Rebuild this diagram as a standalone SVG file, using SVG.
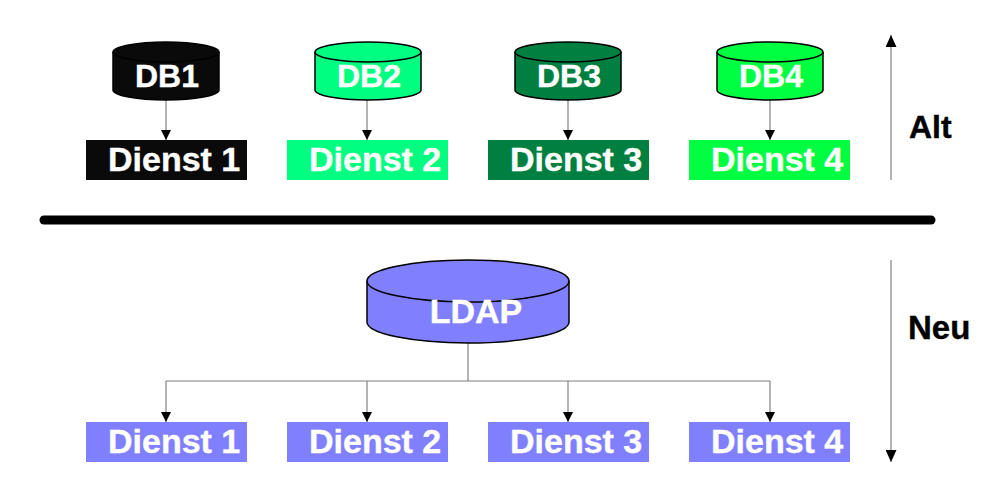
<svg xmlns="http://www.w3.org/2000/svg" width="1000" height="487" viewBox="0 0 1000 487">
<defs>
<style>
.lbl{font-family:"Liberation Sans",Arial,sans-serif;font-weight:bold;fill:#fff;stroke:#fff;stroke-width:0.4}
.side{font-family:"Liberation Sans",Arial,sans-serif;font-weight:bold;fill:#000;stroke:#000;stroke-width:0.4}
.cyl{stroke:#000;stroke-width:1.5}
.con{stroke:#808080;stroke-width:1.2;fill:none}
.ax{stroke:#808080;stroke-width:1.2;fill:none}
</style>
<marker id="ah" viewBox="0 0 10 10" refX="10" refY="5" markerWidth="10" markerHeight="10" markerUnits="userSpaceOnUse" orient="auto"><path d="M0,0 L10,5 L0,10 Z" fill="#000"/></marker>
<marker id="axh" viewBox="0 0 12 11" refX="12" refY="5.5" markerWidth="12" markerHeight="11" markerUnits="userSpaceOnUse" orient="auto"><path d="M0,0 L12,5.5 L0,11 Z" fill="#000"/></marker>
</defs>
<rect width="1000" height="487" fill="#fff"/>

<g id="connectors">
<line class="con" x1="166" y1="100" x2="166" y2="140" marker-end="url(#ah)"/>
<line class="con" x1="367" y1="100" x2="367" y2="140" marker-end="url(#ah)"/>
<line class="con" x1="568" y1="100" x2="568" y2="140" marker-end="url(#ah)"/>
<line class="con" x1="770" y1="100" x2="770" y2="140" marker-end="url(#ah)"/>
<line class="con" x1="468" y1="343" x2="468" y2="381"/>
<line class="con" x1="166" y1="381" x2="770" y2="381"/>
<line class="con" x1="166" y1="381" x2="166" y2="422" marker-end="url(#ah)"/>
<line class="con" x1="367" y1="381" x2="367" y2="422" marker-end="url(#ah)"/>
<line class="con" x1="568" y1="381" x2="568" y2="422" marker-end="url(#ah)"/>
<line class="con" x1="770" y1="381" x2="770" y2="422" marker-end="url(#ah)"/>
</g>

<g id="axes">
<line class="ax" x1="891" y1="180" x2="891" y2="35" marker-end="url(#axh)"/>
<line class="ax" x1="891" y1="260" x2="891" y2="462" marker-end="url(#axh)"/>
<line x1="44" y1="220" x2="931" y2="220" stroke="#000" stroke-width="9" stroke-linecap="round"/>
<text class="side" x="909" y="138" font-size="32">Alt</text>
<text class="side" x="908" y="339" font-size="33">Neu</text>
</g>

<g id="db1">
<path class="cyl" fill="#0a0a0a" d="M113,52 L113,90 A53,10 0 0 0 219,90 L219,52"/>
<ellipse class="cyl" fill="#0a0a0a" cx="166" cy="52" rx="53" ry="10"/>
<text class="lbl" x="167" y="87" font-size="32" text-anchor="middle">DB1</text>
</g>
<g id="db2">
<path class="cyl" fill="#00ff80" d="M315,52 L315,90 A53,10 0 0 0 421,90 L421,52"/>
<ellipse class="cyl" fill="#00ff80" cx="368" cy="52" rx="53" ry="10"/>
<text class="lbl" x="369" y="87" font-size="32" text-anchor="middle">DB2</text>
</g>
<g id="db3">
<path class="cyl" fill="#008040" d="M515,52 L515,90 A53,10 0 0 0 621,90 L621,52"/>
<ellipse class="cyl" fill="#008040" cx="568" cy="52" rx="53" ry="10"/>
<text class="lbl" x="569" y="87" font-size="32" text-anchor="middle">DB3</text>
</g>
<g id="db4">
<path class="cyl" fill="#00ff40" d="M717,52 L717,90 A53,10 0 0 0 823,90 L823,52"/>
<ellipse class="cyl" fill="#00ff40" cx="770" cy="52" rx="53" ry="10"/>
<text class="lbl" x="771" y="87" font-size="32" text-anchor="middle">DB4</text>
</g>

<g id="dienst1-alt">
<rect x="86" y="140" width="161" height="40" fill="#0a0a0a"/>
<text class="lbl" x="108" y="171" font-size="34">Dienst 1</text>
</g>
<g id="dienst2-alt">
<rect x="287" y="140" width="161" height="40" fill="#00ff80"/>
<text class="lbl" x="309" y="171" font-size="34">Dienst 2</text>
</g>
<g id="dienst3-alt">
<rect x="488" y="140" width="161" height="40" fill="#008040"/>
<text class="lbl" x="510" y="171" font-size="34">Dienst 3</text>
</g>
<g id="dienst4-alt">
<rect x="689" y="140" width="161" height="40" fill="#00ff40"/>
<text class="lbl" x="711" y="171" font-size="34">Dienst 4</text>
</g>

<g id="ldap">
<path class="cyl" fill="#8080ff" d="M367,281 L367,322 A101,21 0 0 0 569,322 L569,281"/>
<ellipse class="cyl" fill="#8080ff" cx="468" cy="281" rx="101" ry="21"/>
<text class="lbl" x="476" y="323" font-size="34" text-anchor="middle">LDAP</text>
</g>

<g id="dienst1-neu">
<rect x="86" y="422" width="161" height="40" fill="#8080ff"/>
<text class="lbl" x="108" y="453" font-size="34">Dienst 1</text>
</g>
<g id="dienst2-neu">
<rect x="287" y="422" width="161" height="40" fill="#8080ff"/>
<text class="lbl" x="309" y="453" font-size="34">Dienst 2</text>
</g>
<g id="dienst3-neu">
<rect x="488" y="422" width="161" height="40" fill="#8080ff"/>
<text class="lbl" x="510" y="453" font-size="34">Dienst 3</text>
</g>
<g id="dienst4-neu">
<rect x="689" y="422" width="161" height="40" fill="#8080ff"/>
<text class="lbl" x="711" y="453" font-size="34">Dienst 4</text>
</g>
</svg>
